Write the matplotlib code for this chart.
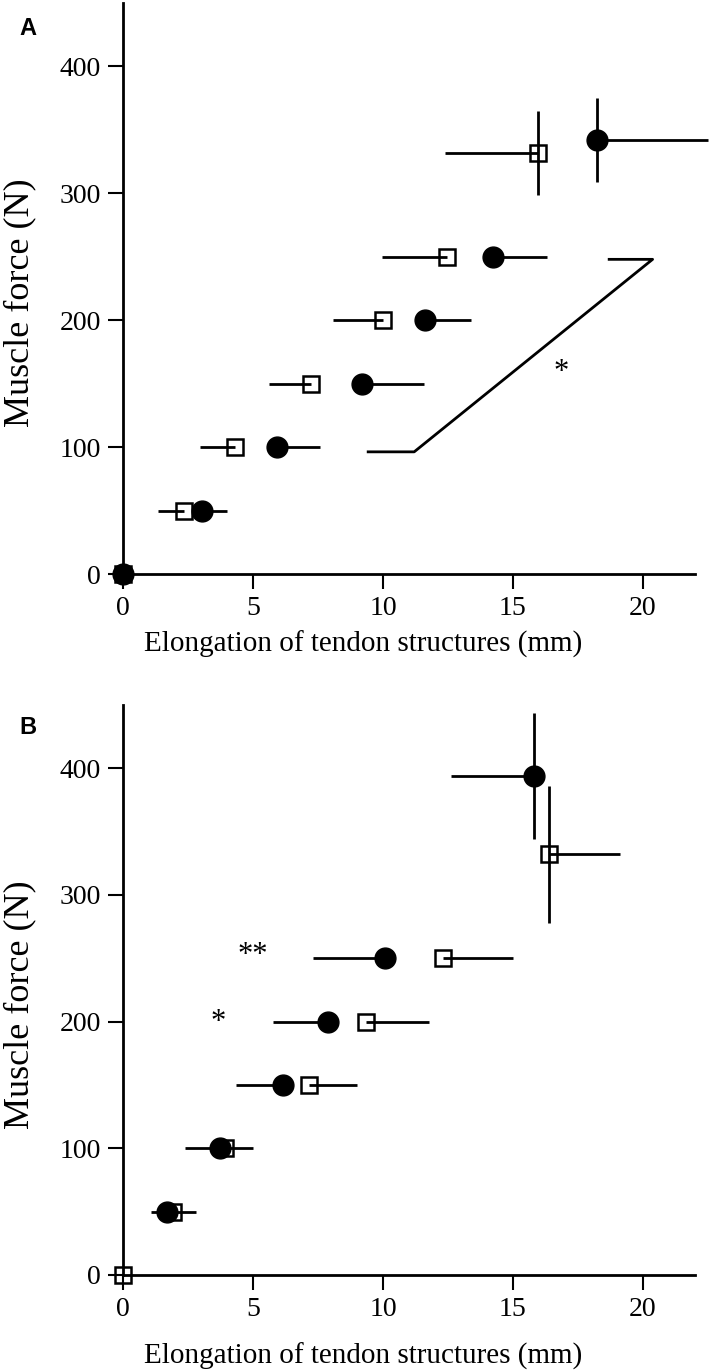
import numpy as np
import matplotlib
matplotlib.use("Agg")
import matplotlib.pyplot as plt

plt.rcParams['font.family'] = ['Liberation Serif', 'DejaVu Serif']

# ---- panel A data (force levels in N, elongation in mm) ----
a_circ_force = [0, 50, 100, 150, 200, 250, 342]
a_circ_elong = [0.0, 3.05, 5.92, 9.18, 11.6, 14.22, 18.22]
a_circ_xerr = [0.0, 0.95, 1.65, 2.4, 1.8, 2.07, 4.3]
a_circ_yerr = [0, 0, 0, 0, 0, 0, 33]

a_sq_force = [0, 50, 100, 150, 200, 250, 332]
a_sq_elong = [0.0, 2.35, 4.3, 7.23, 10.01, 12.45, 15.95]
a_sq_xerr = [0.0, 1.0, 1.35, 1.6, 1.92, 2.5, 3.57]
a_sq_yerr = [0, 0, 0, 0, 0, 0, 33]

# significance bracket in A
a_bracket_x = [9.43, 11.2, 20.37, 18.7]
a_bracket_y = [96.3, 96.3, 248, 248]

# ---- panel B data ----
b_circ_force = [50, 100, 150, 200, 250, 394]
b_circ_elong = [1.68, 3.73, 6.17, 7.87, 10.08, 15.82]
b_circ_xerr = [0.62, 1.35, 1.84, 2.09, 2.78, 3.2]
b_circ_yerr = [0, 0, 0, 0, 0, 50]

b_sq_force = [0, 50, 100, 150, 200, 250, 332]
b_sq_elong = [0.0, 1.91, 3.91, 7.15, 9.35, 12.32, 16.38]
b_sq_xerr = [0.0, 0.9, 1.08, 1.84, 2.43, 2.68, 2.73]
b_sq_yerr = [0, 0, 0, 0, 0, 0, 54]

LW = 2.0
TICK_FS = 20


def style_axes(ax, xlabel_y):
    ax.set_xlim(0, 22)
    ax.set_ylim(0, 450)
    ax.set_xticks([0, 5, 10, 15, 20])
    ax.set_yticks([0, 100, 200, 300, 400])
    for side in ['top', 'right']:
        ax.spines[side].set_visible(False)
    for side in ['left', 'bottom']:
        ax.spines[side].set_linewidth(LW)
    ax.tick_params(direction='out', length=11, width=1.5, labelsize=TICK_FS, pad=5)
    ax.set_xlabel("Elongation of tendon structures (mm)", fontsize=21)
    ax.set_ylabel("Muscle force (N)", fontsize=26)
    ax.xaxis.set_label_coords(0.42, xlabel_y)
    ax.yaxis.set_label_coords(-0.152, 0.475)


def draw_squares(ax, x, y, xerr, yerr):
    ax.errorbar(x, y, xerr=xerr, yerr=yerr, fmt='s', ms=12, mfc='none', mec='black',
                mew=1.8, ecolor='black', elinewidth=LW, capsize=0, clip_on=False, zorder=3)


def draw_circles(ax, x, y, xerr, yerr):
    ax.errorbar(x, y, xerr=xerr, yerr=yerr, fmt='o', ms=15, mfc='black', mec='black',
                ecolor='black', elinewidth=LW, capsize=0, clip_on=False, zorder=4)


fig = plt.figure(figsize=(7.09, 13.72), dpi=100)
axA = fig.add_axes([0.1735, 0.5816, 0.8067, 0.4162])
axB = fig.add_axes([0.1735, 0.0707, 0.8067, 0.4155])

# panel A: squares have left bars, circles right bars
z = [0] * len(a_sq_xerr)
draw_squares(axA, a_sq_elong, a_sq_force, [a_sq_xerr, z], a_sq_yerr)
z = [0] * len(a_circ_xerr)
draw_circles(axA, a_circ_elong, a_circ_force, [z, a_circ_xerr], a_circ_yerr)
axA.plot(a_bracket_x, a_bracket_y, color='black', lw=LW)
axA.text(16.87, 159, "*", fontsize=22, ha='center', va='center')
style_axes(axA, -0.1)

# panel B: circles have left bars, squares right bars
z = [0] * len(b_sq_xerr)
draw_squares(axB, b_sq_elong, b_sq_force, [z, b_sq_xerr], b_sq_yerr)
z = [0] * len(b_circ_xerr)
draw_circles(axB, b_circ_elong, b_circ_force, [b_circ_xerr, z], b_circ_yerr)
axB.text(5.0, 252, "**", fontsize=22, ha='center', va='center')
axB.text(3.67, 199, "*", fontsize=22, ha='center', va='center')
style_axes(axB, -0.118)

fig.text(0.039, 0.979, "A", family='Liberation Sans', weight='bold', fontsize=17,
         ha='center', va='center')
fig.text(0.039, 0.470, "B", family='Liberation Sans', weight='bold', fontsize=17,
         ha='center', va='center')

fig.savefig("out.png", dpi=100)
